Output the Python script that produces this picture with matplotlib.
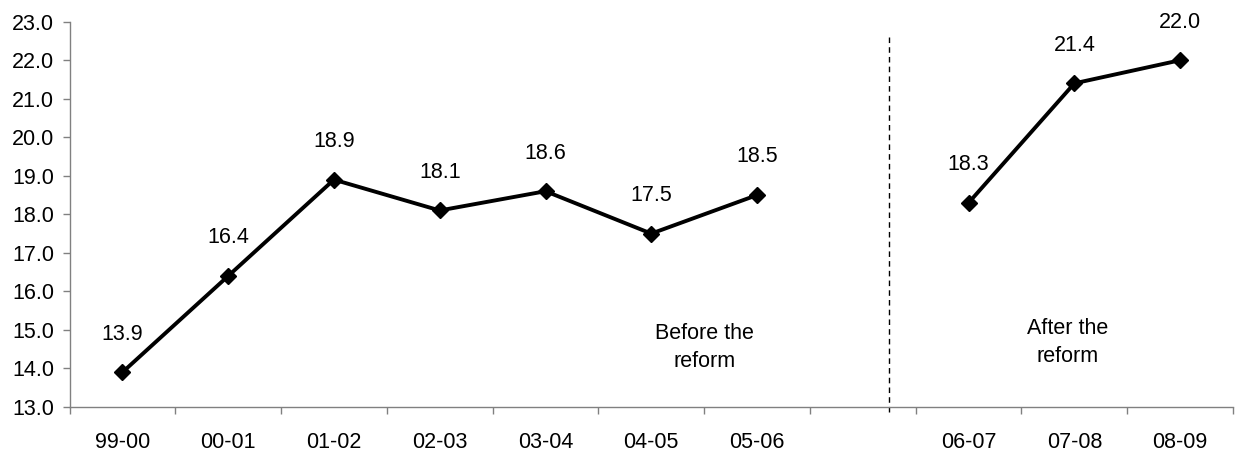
import numpy as np
import matplotlib.pyplot as plt
from matplotlib.ticker import FixedLocator

plt.rcParams['font.family'] = ['Liberation Sans', 'DejaVu Sans']

# Data
years = ["99-00", "00-01", "01-02", "02-03", "03-04", "04-05", "05-06", "", "06-07", "07-08", "08-09"]
values = [13.9, 16.4, 18.9, 18.1, 18.6, 17.5, 18.5, np.nan, 18.3, 21.4, 22.0]
reform_split = 7.25
y_ticks = np.arange(13.0, 23.01, 1.0)

fs = 15.5

fig = plt.figure(figsize=(12.39, 4.51), dpi=100)
ax = fig.add_axes([0.0561, 0.0976, 0.9391, 0.8543])

x = np.arange(len(years))
ax.plot(x, values, color="black", lw=2.8, marker="D", ms=8.5, zorder=3)

for xi, v in zip(x, values):
    if not np.isnan(v):
        ax.annotate(f"{v:.1f}", (xi, v), xytext=(0, 27.5), textcoords="offset points",
                    ha="center", va="center", fontsize=fs)

# dashed separator
ax.plot([reform_split, reform_split], [12.87, 22.71], color="black", lw=1, ls=(0, (4, 3)),
        clip_on=False)

ax.text(5.5, 14.55, "Before the\nreform", ha="center", va="center", fontsize=fs, linespacing=1.45)
ax.text(8.94, 14.68, "After the\nreform", ha="center", va="center", fontsize=fs, linespacing=1.45)

ax.set_xlim(-0.5, len(years) - 0.5)
ax.set_ylim(13, 23)
ax.set_xticks(x)
ax.set_xticklabels(years)
ax.xaxis.set_minor_locator(FixedLocator(np.arange(-0.5, len(years), 1.0)))
ax.set_yticks(y_ticks)
ax.set_yticklabels([f"{t:.1f}" for t in y_ticks])

for s in ["top", "right"]:
    ax.spines[s].set_visible(False)
for s in ["left", "bottom"]:
    ax.spines[s].set_color("#808080")
    ax.spines[s].set_linewidth(1)

ax.tick_params(axis="x", which="major", length=0, pad=18, labelsize=fs)
ax.tick_params(axis="x", which="minor", length=5, color="#808080", width=1)
ax.tick_params(axis="y", length=5, color="#808080", width=1, pad=6, labelsize=fs)

fig.savefig("out.png", dpi=100)
